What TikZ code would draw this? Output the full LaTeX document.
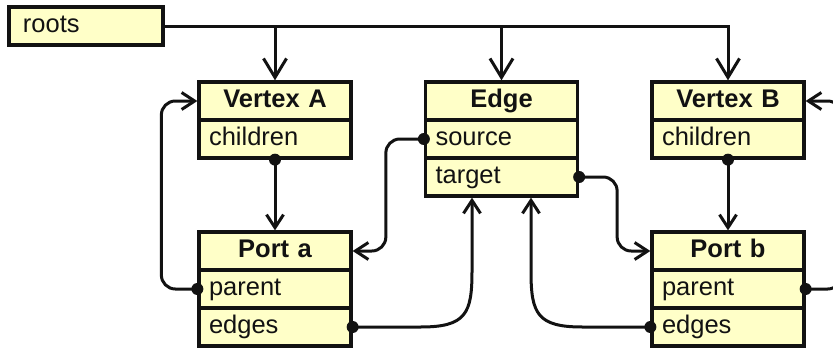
\documentclass[tikz,border=0pt]{standalone}
\usepackage{fontspec}
\setmainfont{Liberation Sans}
\usetikzlibrary{arrows.meta,calc}
\definecolor{boxfill}{RGB}{255,255,200}
\definecolor{ink}{RGB}{18,18,18}

\begin{document}
\begin{tikzpicture}[x=1pt,y=-1pt,
  cell/.style={draw=ink, line width=3.3pt, fill=boxfill, minimum height=38pt,
    inner xsep=10pt, inner ysep=0pt, text width=132pt, align=left,
    text height=18pt, text depth=5pt, font=\fontsize{25.5}{30}\selectfont, text=ink},
  head/.style={cell, align=center, font=\fontsize{25.5}{30}\selectfont\bfseries},
  link/.style={draw=ink, line width=3pt},
  tip/.style={-{Straight Barb[length=13pt,width=17pt]}},
  bigtip/.style={-{Straight Barb[length=19pt,width=23pt]}},
  roundpath/.style={rounded corners=14pt},
]
\useasboundingbox (0,0) rectangle (833,348);
\clip (0,0) rectangle (833,348);

% list head
\node[cell, text width=126pt, inner xsep=14pt] (roots) at (86,26) {roots};

% Vertex A
\node[head] (vAh)  at (275,101) {Vertex A};
\node[cell] (vAch) at (275,139) {children};

% Edge
\node[head] (eH)   at (501.5,101) {Edge};
\node[cell] (eSrc) at (501.5,139) {source};
\node[cell] (eTgt) at (501.5,177) {target};

% Vertex B
\node[head] (vBh)  at (728,101) {Vertex B};
\node[cell] (vBch) at (728,139) {children};

% Port a
\node[head] (pAh)   at (275,251) {Port a};
\node[cell] (pApar) at (275,289) {parent};
\node[cell] (pAedg) at (275,327) {edges};

% Port b
\node[head] (pBh)   at (728,251) {Port b};
\node[cell] (pBpar) at (728,289) {parent};
\node[cell] (pBedg) at (728,327) {edges};

% entry points on the bottom of the edge record
\coordinate (inA) at ([xshift=-29.5pt]eTgt.south);
\coordinate (inB) at ([xshift=29.5pt]eTgt.south);

% roots list
\draw[link,bigtip] (roots.east) -| (vBh.north);
\draw[link,bigtip] (roots.east -| vAh.north) -- (vAh.north);
\draw[link,bigtip] (roots.east -| eH.north) -- (eH.north);

% children
\draw[link,tip] (vAch.south) -- (pAh.north);
\draw[link,tip] (vBch.south) -- (pBh.north);

% parents
\draw[link,tip,roundpath] (pApar.west) -- ++(-36,0) |- (vAh.west);
\draw[link,tip,roundpath] (pBpar.east) -- ++(36,0) |- (vBh.east);

% source / target
\draw[link,tip,roundpath] (eSrc.west) -- ++(-38,0) |- (pAh.east);
\draw[link,tip,roundpath] (eTgt.east) -- ++(38,0) |- (pBh.west);

% edges lists
\draw[link,tip] (pAedg.east) -- ++(68,0)
  .. controls +(45,0) and +(0,42) .. ($(inA)+(0,74)$) -- (inA);
\draw[link,tip] (pBedg.west) -- ++(-68,0)
  .. controls +(-45,0) and +(0,42) .. ($(inB)+(0,74)$) -- (inB);

% pointer origins
\foreach \p in {vAch.south, vBch.south, pApar.west, pBpar.east,
                eSrc.west, eTgt.east, pAedg.east, pBedg.west}
  \fill[ink] (\p) circle (6pt);
\end{tikzpicture}
\end{document}
